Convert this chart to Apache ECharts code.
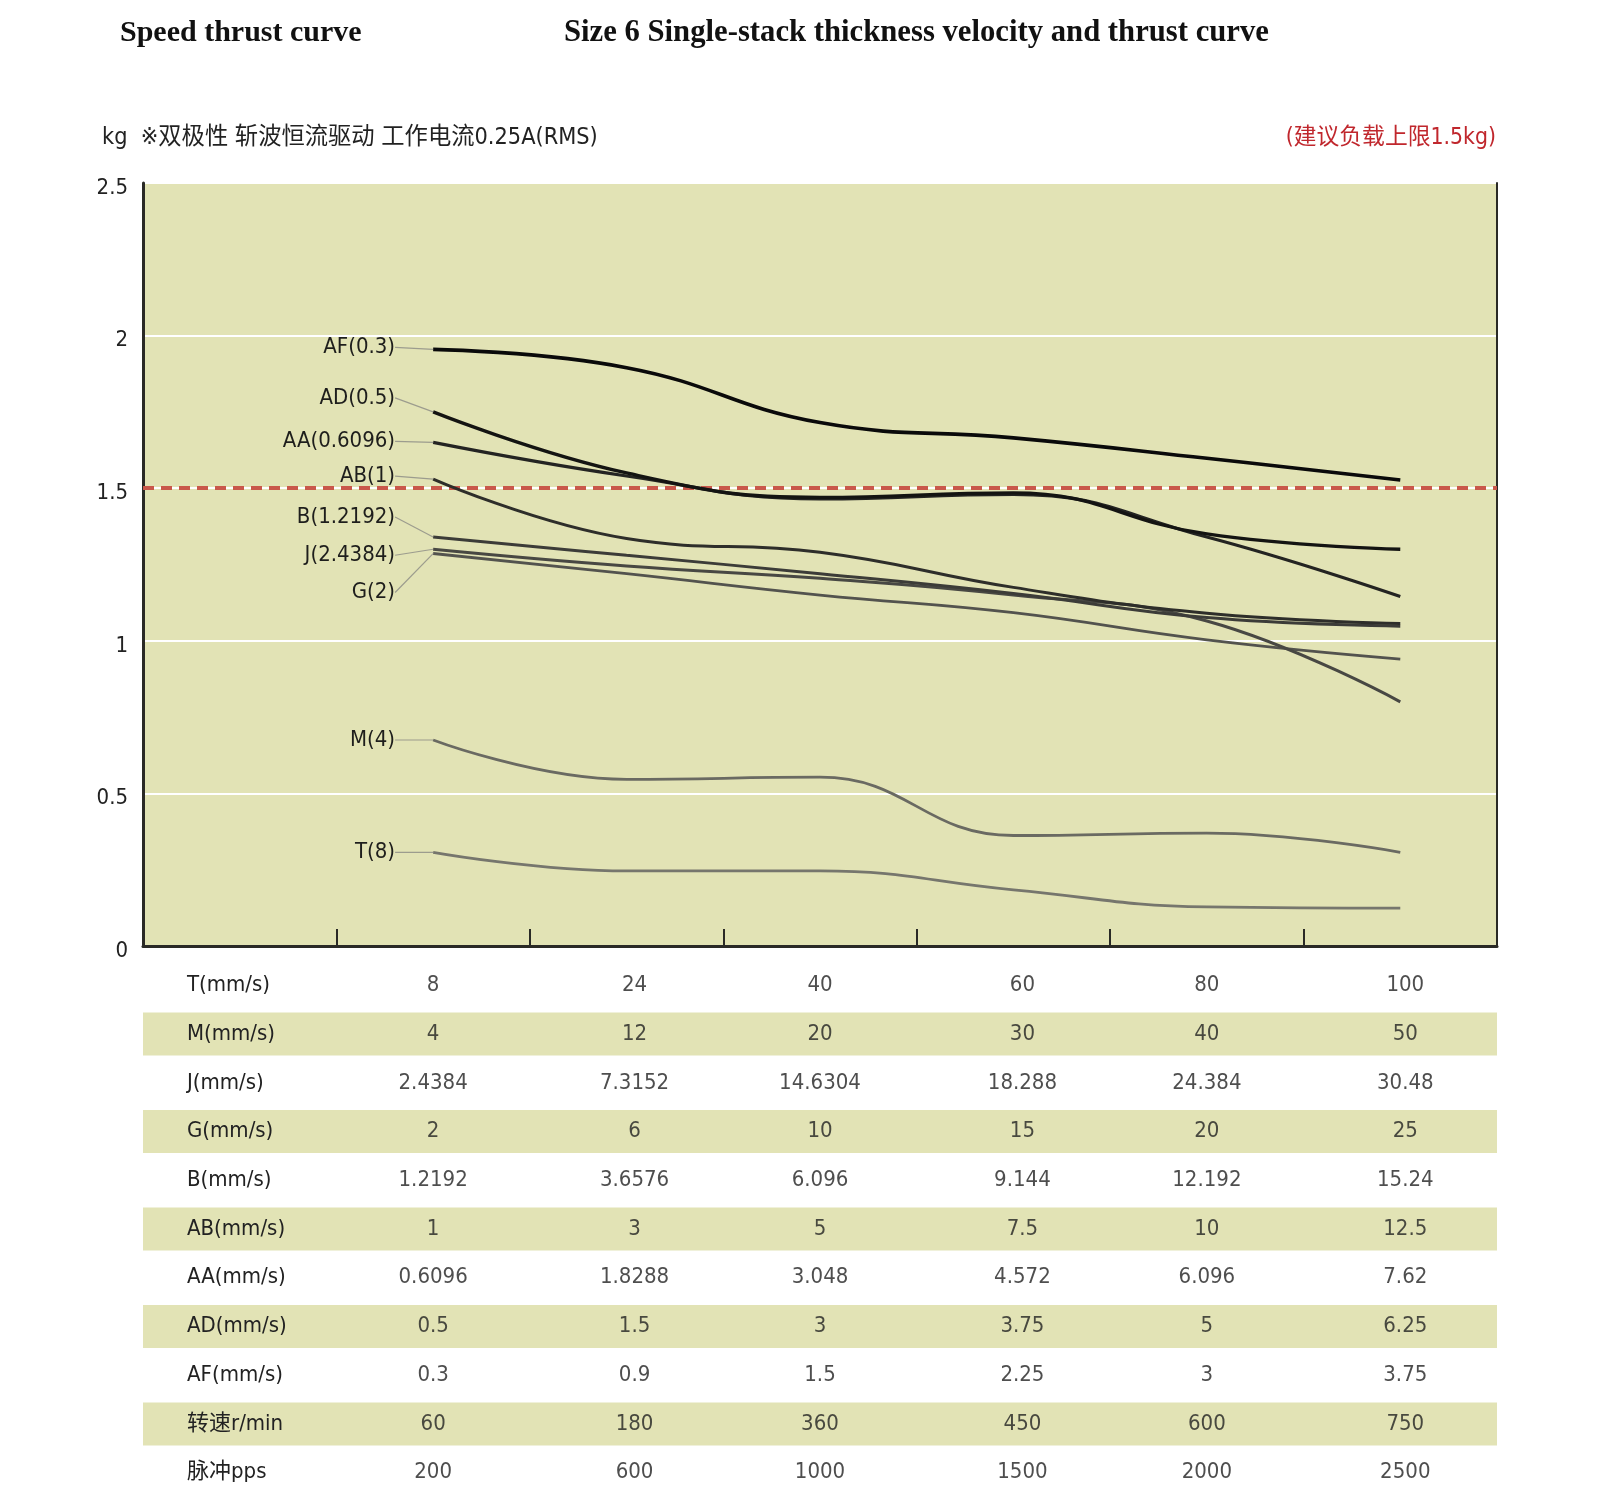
<!DOCTYPE html>
<html>
<head>
<meta charset="utf-8">
<script src="https://cdn.jsdelivr.net/npm/echarts@6/dist/echarts.min.js"></script>
<style>html,body{margin:0;padding:0;background:#fff;}#chart{width:1600px;height:1498px;}</style>
</head>
<body>
<div id="chart"></div>
<script>
// ---- data ----
const speedT = [8, 24, 40, 60, 80, 100];
const xCategories = ['', '8', '24', '40', '60', '80', '100'];
const yTicks = [0, 0.5, 1, 1.5, 2, 2.5];
const loadLimit = 1.5;

const seriesNames = ['AF(0.3)', 'AD(0.5)', 'AA(0.6096)', 'AB(1)', 'B(1.2192)', 'J(2.4384)', 'G(2)', 'M(4)', 'T(8)'];
const thrustAF = [1.955, 1.895, 1.715, 1.665, 1.598, 1.527];
const thrustAD = [1.75, 1.55, 1.47, 1.485, 1.35, 1.30];
const thrustAA = [1.65, 1.54, 1.465, 1.48, 1.34, 1.145];
const thrustAB = [1.53, 1.335, 1.29, 1.175, 1.09, 1.057];
const thrustB  = [1.34, 1.28, 1.22, 1.155, 1.076, 1.048];
const thrustJ  = [1.30, 1.245, 1.205, 1.15, 1.065, 0.80];
const thrustG  = [1.286, 1.22, 1.15, 1.092, 1.003, 0.94];
const thrustM  = [0.675, 0.546, 0.553, 0.362, 0.37, 0.307];
const thrustT  = [0.307, 0.246, 0.246, 0.184, 0.128, 0.124];

const tableRows = ['T(mm/s)', 'M(mm/s)', 'J(mm/s)', 'G(mm/s)', 'B(mm/s)', 'AB(mm/s)', 'AA(mm/s)', 'AD(mm/s)', 'AF(mm/s)', '转速r/min', '脉冲pps'];
const rowT  = [8, 24, 40, 60, 80, 100];
const rowM  = [4, 12, 20, 30, 40, 50];
const rowJ  = [2.4384, 7.3152, 14.6304, 18.288, 24.384, 30.48];
const rowG  = [2, 6, 10, 15, 20, 25];
const rowB  = [1.2192, 3.6576, 6.096, 9.144, 12.192, 15.24];
const rowAB = [1, 3, 5, 7.5, 10, 12.5];
const rowAA = [0.6096, 1.8288, 3.048, 4.572, 6.096, 7.62];
const rowAD = [0.5, 1.5, 3, 3.75, 5, 6.25];
const rowAF = [0.3, 0.9, 1.5, 2.25, 3, 3.75];
const rowRpm = [60, 180, 360, 450, 600, 750];
const rowPps = [200, 600, 1000, 1500, 2000, 2500];

// ---- styling / build ----
const NARROW = '"Liberation Sans Narrow", "DejaVu Sans Condensed", "Noto Sans CJK SC", sans-serif';
const CJK = '"Liberation Sans Narrow", "DejaVu Sans Condensed", "Noto Sans CJK SC", sans-serif';
const BG = '#e2e3b5';
const AXIS = '#2a2a26';

const curveData = [thrustAF, thrustAD, thrustAA, thrustAB, thrustB, thrustJ, thrustG, thrustM, thrustT];
const curveColors = ['#0a0a0a', '#141412', '#242422', '#2e2e2a', '#3c3c38', '#484843', '#53534e', '#6a6a62', '#76766d'];
const curveWidths = [3.6, 3.3, 3.2, 3, 3, 3, 2.8, 2.8, 2.8];
const labelDy = [-2, -14, -1, -3, -20, 6, 39, 0, 0];
const colNudge = [0, 8, 0, 9, 0, 5];

const lineSeries = curveData.map((vals, s) => ({
  type: 'line',
  name: seriesNames[s],
  xAxisIndex: 0, yAxisIndex: 0,
  smooth: 0.45,
  symbol: 'circle', symbolSize: 0.1, showSymbol: true,
  itemStyle: { color: 'rgba(0,0,0,0)' },
  lineStyle: { color: curveColors[s], width: curveWidths[s] },
  z: 3 + (9 - s),
  silent: true,
  label: { show: false },
  labelLine: { show: true, lineStyle: { color: '#9c9c8e', width: 1.2 } },
  labelLayout: { dy: labelDy[s] },
  data: vals.map((v, i) => i === 0
    ? { value: [xCategories[i + 1], v], label: { show: true, position: 'left', distance: 38, formatter: seriesNames[s], fontFamily: NARROW, fontSize: 22, color: '#1e1e1c' } }
    : [xCategories[i + 1], v]),
  markLine: s === 0 ? {
    silent: true, symbol: 'none', label: { show: false },
    lineStyle: { color: '#c9584a', type: [11, 7], width: 4 },
    data: [{ yAxis: loadLimit }]
  } : undefined
}));

const tableData = [rowT, rowM, rowJ, rowG, rowB, rowAB, rowAA, rowAD, rowAF, rowRpm, rowPps];
const cells = [];
tableData.forEach((row, r) => row.forEach((v, c) => cells.push({ value: [c + 1, r, String(v)], label: { offset: [colNudge[c], 0] } })));
const stripeFlags = tableRows.map((_, i) => (i % 2 === 1 ? 1 : 0));

const option = {
  backgroundColor: '#ffffff',
  animation: false,
  grid: [
    { left: 143, right: 103, top: 183, bottom: 552, show: true, backgroundColor: BG, borderWidth: 0 },
    { left: 143, right: 103, top: 961, bottom: 1, show: false }
  ],
  xAxis: [
    { type: 'category', gridIndex: 0, data: xCategories, boundaryGap: true,
      axisLine: { show: true, lineStyle: { color: AXIS, width: 3 } },
      axisTick: { show: true, inside: true, length: 17, interval: 0, lineStyle: { color: AXIS, width: 2 } },
      axisLabel: { show: false }, splitLine: { show: false } },
    { type: 'category', gridIndex: 1, data: xCategories, boundaryGap: true,
      axisLine: { show: false }, axisTick: { show: false }, axisLabel: { show: false }, splitLine: { show: false } },
    { type: 'value', gridIndex: 1, min: 0, max: 1, show: false }
  ],
  yAxis: [
    { type: 'value', gridIndex: 0, min: yTicks[0], max: yTicks[yTicks.length - 1], interval: 0.5,
      axisLine: { show: true, lineStyle: { color: AXIS, width: 3 } },
      axisTick: { show: false },
      axisLabel: { show: true, margin: 15, formatter: '{v|{value}}',
        rich: { v: { fontFamily: NARROW, fontSize: 22, color: '#222', padding: [10, 0, 0, 0] } } },
      splitLine: { show: true, lineStyle: { color: '#ffffff', width: 2 } } },
    { type: 'value', gridIndex: 0, position: 'right', min: yTicks[0], max: yTicks[yTicks.length - 1], interval: 0.5,
      axisLine: { show: true, lineStyle: { color: AXIS, width: 2 } },
      axisTick: { show: false }, axisLabel: { show: false }, splitLine: { show: false } },
    { type: 'category', gridIndex: 1, data: tableRows, inverse: true, boundaryGap: true,
      axisLine: { show: false }, axisTick: { show: false, interval: 0 },
      axisLabel: { show: true, inside: true, margin: 44, interval: 0, fontFamily: CJK, fontSize: 22, color: '#222' },
      splitLine: { show: false }, splitArea: { show: false }, z: 5 }
  ],
  series: lineSeries.concat([
    { type: 'bar', xAxisIndex: 2, yAxisIndex: 2, silent: true, barWidth: 43, z: 1,
      itemStyle: { color: BG }, label: { show: false }, data: stripeFlags },
    { type: 'scatter', xAxisIndex: 1, yAxisIndex: 2, symbolSize: 0, silent: true, z: 5,
      label: { show: true, position: 'inside', formatter: p => p.data.value[2], fontFamily: NARROW, fontSize: 22, color: '#222' },
      data: cells }
  ]),
  graphic: [
    { type: 'text', x: 120, y: 33, style: { text: 'Speed thrust curve', fontFamily: '"Liberation Serif", serif', fontWeight: 'bold', fontSize: 30, fill: '#111', align: 'left', verticalAlign: 'middle' } },
    { type: 'text', x: 564, y: 33, style: { text: 'Size 6 Single-stack thickness velocity and thrust curve', fontFamily: '"Liberation Serif", serif', fontWeight: 'bold', fontSize: 30.7, fill: '#111', align: 'left', verticalAlign: 'middle' } },
    { type: 'text', x: 102, y: 138, style: { text: 'kg  ※双极性 斩波恒流驱动 工作电流0.25A(RMS)', fontFamily: CJK, fontSize: 23.3, fill: '#222', align: 'left', verticalAlign: 'middle' } },
    { type: 'text', x: 1496, y: 138, style: { text: '(建议负载上限1.5kg)', fontFamily: CJK, fontSize: 22.8, fill: '#c0272d', align: 'right', verticalAlign: 'middle' } }
  ]
};

const chart = echarts.init(document.getElementById('chart'), null, { renderer: 'canvas' });
chart.setOption(option);
</script>
</body>
</html>
